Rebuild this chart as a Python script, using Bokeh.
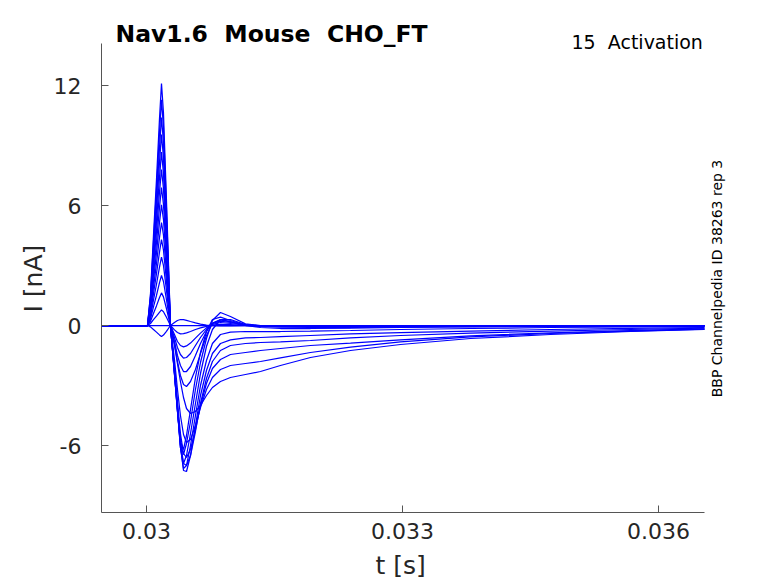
from bokeh.plotting import figure
from bokeh.models import Range1d, FixedTicker, Label, Title
from bokeh.embed import file_html
from bokeh.resources import INLINE

# sample times (s)
time_s = [0.02947, 0.030012, 0.030047, 0.030082, 0.030117, 0.030152, 0.030176, 0.030199, 0.030234, 0.030281,
          0.030328, 0.030363, 0.030398, 0.030434, 0.030469, 0.030516, 0.030574, 0.030633, 0.030703, 0.030773,
          0.030867, 0.030984, 0.031160, 0.031336, 0.031570, 0.031922, 0.032391, 0.032977, 0.033797, 0.034734,
          0.035672, 0.036539]

# currents (nA), one list per voltage step
trace_a = [0, 0, -0.07, -0.2, -0.33, -0.47, -0.55, -0.48, -0.29, 0,
           0.15, 0.25, 0.3, 0.29, 0.26, 0.2, 0.13, 0.07, 0.02, -0.01, -0.02, -0.02, -0.01, 0, 0, 0, 0, 0, 0, 0, 0, 0]
trace_flat = [0] * 32
trace_s1 = [0, 0, 0.1, 0.29, 0.47, 0.66, 0.78, 0.69, 0.41, 0,
            -0.22, -0.35, -0.42, -0.41, -0.37, -0.3, -0.2, -0.12, -0.04, 0.02, 0.06, 0.04, 0, 0, 0, 0, 0, 0, 0, 0, 0, 0]
trace_s2 = [0, 0, 0.21, 0.6, 0.98, 1.39, 1.63, 1.43, 0.85, 0,
            -0.45, -0.8, -1.0, -1.07, -1.02, -0.88, -0.63, -0.38, -0.12, 0.06, 0.15, 0.1, 0.02, 0, -0.01, -0.01, -0.01, -0.01, 0, 0, 0, 0]
trace_s3 = [0, 0, 0.33, 0.93, 1.5, 2.13, 2.5, 2.2, 1.3, 0,
            -0.6, -1.1, -1.45, -1.63, -1.6, -1.4, -1.0, -0.6, -0.2, 0.1, 0.22, 0.15, 0.03, -0.02, -0.03, -0.03, -0.03, -0.02, -0.02, -0.01, -0.01, -0.01]
trace_s4 = [0, 0, 0.44, 1.27, 2.05, 2.91, 3.42, 3.01, 1.78, 0,
            -0.8, -1.5, -2.0, -2.3, -2.3, -2.05, -1.5, -0.9, -0.3, 0.12, 0.28, 0.18, 0.02, -0.05, -0.06, -0.06, -0.05, -0.04, -0.03, -0.02, -0.02, -0.01]
trace_s5 = [0, 0, 0.56, 1.59, 2.58, 3.66, 4.3, 3.78, 2.24, 0,
            -0.9, -1.8, -2.5, -2.95, -3.05, -2.8, -2.2, -1.4, -0.5, 0.1, 0.3, 0.2, 0.0, -0.1, -0.15, -0.15, -0.13, -0.1, -0.07, -0.05, -0.04, -0.03]
trace_d1 = [0, 0, 0.67, 1.91, 3.09, 4.38, 5.15, 4.53, 2.68, 0,
            -1.0, -1.9, -2.8, -3.6, -4.15, -4.4, -4.3, -4.0, -3.5, -3.1, -2.8, -2.6, -2.45, -2.3, -2.0, -1.6, -1.25, -0.95, -0.65, -0.45, -0.3, -0.2]
trace_d2 = [0, 0, 0.78, 2.23, 3.62, 5.13, 6.03, 5.31, 3.14, 0,
            -1.7, -3.2, -4.5, -5.45, -5.85, -5.7, -5.0, -4.1, -3.2, -2.6, -2.2, -2.0, -1.9, -1.8, -1.62, -1.35, -1.08, -0.82, -0.57, -0.4, -0.28, -0.18]
trace_d3 = [0, 0, 0.9, 2.55, 4.14, 5.87, 6.9, 6.07, 3.59, 0,
            -2.1, -3.8, -5.4, -6.4, -6.6, -6.2, -5.2, -4.0, -2.9, -2.15, -1.7, -1.45, -1.35, -1.25, -1.15, -1.0, -0.88, -0.72, -0.52, -0.37, -0.26, -0.17]
trace_d4 = [0, 0, 1.01, 2.89, 4.68, 6.63, 7.8, 6.86, 4.06, 0,
            -2.2, -4.0, -5.8, -6.9, -7.0, -6.5, -5.3, -3.9, -2.65, -1.8, -1.25, -1.0, -0.9, -0.85, -0.82, -0.75, -0.62, -0.5, -0.38, -0.28, -0.2, -0.13]
trace_d5 = [0, 0, 1.13, 3.21, 5.2, 7.37, 8.67, 7.63, 4.51, 0,
            -2.3, -4.1, -6.0, -7.25, -7.3, -6.5, -5.0, -3.5, -2.25, -1.4, -0.9, -0.72, -0.62, -0.6, -0.56, -0.5, -0.42, -0.36, -0.28, -0.2, -0.14, -0.1]
trace_d6 = [0, 0, 1.24, 3.53, 5.73, 8.12, 9.55, 8.4, 4.97, 0,
            -2.35, -4.2, -6.1, -7.15, -7.0, -6.0, -4.5, -3.0, -1.75, -0.9, -0.45, -0.33, -0.3, -0.3, -0.3, -0.28, -0.25, -0.2, -0.15, -0.1, -0.07, -0.05]
trace_d7 = [0, 0, 1.35, 3.85, 6.24, 8.84, 10.4, 9.15, 5.41, 0,
            -2.4, -4.25, -6.1, -6.9, -6.5, -5.4, -3.9, -2.4, -1.05, -0.2, 0.3, 0.3, 0.05, -0.05, -0.08, -0.1, -0.1, -0.08, -0.05, -0.04, -0.03, -0.02]
trace_d8 = [0, 0, 1.47, 4.17, 6.77, 9.59, 11.28, 9.93, 5.87, 0,
            -2.4, -4.25, -5.95, -6.45, -5.9, -4.8, -3.2, -1.85, -0.65, 0.25, 0.65, 0.45, 0.08, 0, 0, 0, 0, 0, 0, 0, 0, 0]
trace_d9 = [0, 0, 1.57, 4.48, 7.26, 10.29, 12.1, 10.65, 6.29, 0,
            -2.45, -4.3, -5.8, -6.2, -5.5, -4.2, -2.6, -1.35, -0.3, 0.3, 0.42, 0.25, 0.03, -0.02, -0.03, -0.03, -0.03, -0.02, -0.02, -0.01, -0.01, 0]

traces = [trace_a, trace_flat, trace_s1, trace_s2, trace_s3, trace_s4, trace_s5,
          trace_d1, trace_d2, trace_d3, trace_d4, trace_d5, trace_d6, trace_d7, trace_d8, trace_d9]

x_ticks = [0.03, 0.033, 0.036]
x_tick_labels = ["0.03", "0.033", "0.036"]
y_ticks = [-6, 0, 6, 12]
y_tick_labels = ["-6", "0", "6", "12"]

# axis extents (data units)
x_axis_bounds = (0.029473, 0.036539)
y_axis_bounds = (-9.35, 14.1)

title_text = "Nav1.6\u00a0 Mouse\u00a0 CHO_FT"
protocol_text = "15\u00a0 Activation"
side_text = "BBP Channelpedia ID 38263 rep 3"
x_label = "t [s]"
y_label = "I [nA]"

FONT = "DejaVu Sans"

p = figure(frame_width=639, frame_height=497,
           x_range=Range1d(0.029473, 0.036961), y_range=Range1d(-9.35, 15.5),
           output_backend="svg", toolbar_location=None,
           min_border_left=101, min_border_top=15, min_border_right=10, min_border_bottom=55)
p.outline_line_color = None
p.xgrid.visible = False
p.ygrid.visible = False
p.background_fill_color = "white"
p.border_fill_color = "white"

for tr in traces:
    p.line(time_s, tr, line_color="#0000ff", line_width=1.25)

for ax in (p.xaxis[0], p.yaxis[0]):
    ax.axis_line_color = "#555555"
    ax.major_tick_line_color = "#555555"
    ax.major_tick_in = 7
    ax.major_tick_out = 0
    ax.minor_tick_line_color = None
    ax.major_label_text_font = FONT
    ax.major_label_text_font_size = "22px"
    ax.major_label_text_color = "#262626"

p.xaxis.ticker = FixedTicker(ticks=x_ticks)
p.xaxis.major_label_overrides = dict(zip(x_ticks, x_tick_labels))
p.xaxis.major_label_standoff = 10
p.xaxis.bounds = x_axis_bounds

p.yaxis.ticker = FixedTicker(ticks=y_ticks)
p.yaxis.major_label_overrides = dict(zip(y_ticks, y_tick_labels))
p.yaxis.major_label_standoff = 20
p.yaxis.bounds = y_axis_bounds

# axis titles placed along the drawn axis extent
p.add_layout(Title(text=x_label, align="left", offset=274, standoff=14,
                   text_font=FONT, text_font_size="25px", text_font_style="normal",
                   text_color="#262626"), "below")
p.add_layout(Title(text=y_label, align="left", offset=200, standoff=6,
                   text_font=FONT, text_font_size="25px", text_font_style="normal",
                   text_color="#262626"), "left")

p.add_layout(Label(x=0.029637, y=14.6, text=title_text, text_font=FONT,
                   text_font_size="23.5px", text_font_style="bold", text_color="black",
                   text_baseline="middle", text_align="left"))
p.add_layout(Label(x=0.034981, y=14.2, text=protocol_text, text_font=FONT,
                   text_font_size="19px", text_color="black",
                   text_baseline="middle", text_align="left"))
p.add_layout(Label(x=0.036691, y=2.35, text=side_text, text_font=FONT,
                   text_font_size="14px", text_color="black", angle=1.5708,
                   text_baseline="middle", text_align="center"))

open("out.html", "w").write(file_html(p, INLINE))
